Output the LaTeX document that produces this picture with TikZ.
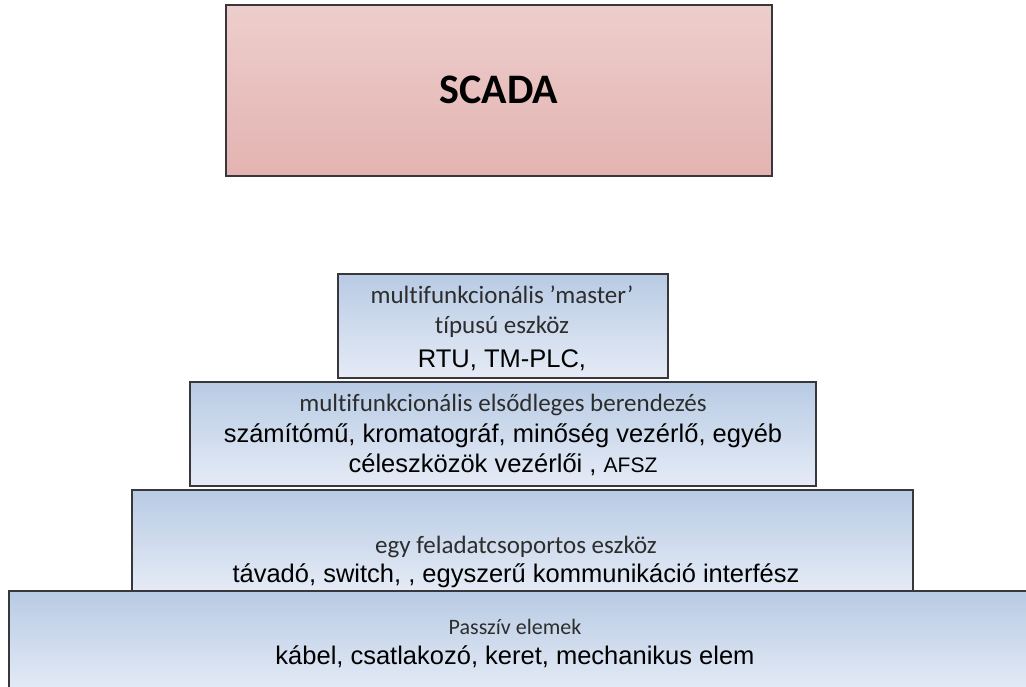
\documentclass[tikz,border=0pt]{standalone}
\usepackage{fontspec}
\setmainfont{Carlito}[Ligatures=NoCommon]
\newfontfamily\arialfont{Liberation Sans}

\definecolor{scadatop}{RGB}{237,206,204}
\definecolor{scadabot}{RGB}{227,179,177}
\definecolor{layertop}{RGB}{184,203,228}
\definecolor{layerbot}{RGB}{229,235,246}
\definecolor{rim}{RGB}{55,55,60}
\definecolor{softink}{RGB}{45,45,45}

\begin{document}
\begin{tikzpicture}[x=1pt,y=-1pt,
  scadabox/.style={draw=rim, line width=1.1pt, top color=scadatop, bottom color=scadabot, inner sep=0pt},
  layerbox/.style={draw=rim, line width=1.1pt, top color=layertop, bottom color=layerbot, inner sep=0pt},
  calib/.style={text=softink, font=\fontsize{25}{30}\selectfont},
  arial/.style={font=\arialfont\fontsize{25.5}{30}\selectfont},
  txt/.style={align=center, inner sep=0pt}]
\useasboundingbox (0,0) rectangle (1026,686);
\clip (0,0) rectangle (1026,686);

% top of the hierarchy
\node[scadabox, minimum width=546pt, minimum height=171pt] (scada) at (499,90.5) {};
\node[txt, font=\bfseries\fontsize{42}{50}\selectfont] (scadatxt) at (499,90) {SCADA};

% master level
\node[layerbox, minimum width=330pt, minimum height=104pt] (master) at (503,326) {};
\node[txt, calib, anchor=base] (master1) at (502,303) {multifunkcionális ’master’};
\node[txt, calib, anchor=base] (master2) at (502,333) {típusú eszköz};
\node[txt, arial, anchor=base] (master3) at (502,367) {RTU, TM-PLC,};

% primary devices
\node[layerbox, minimum width=626pt, minimum height=104pt] (primary) at (503,434) {};
\node[txt, calib, anchor=base] (primary1) at (503,411) {multifunkcionális elsődleges berendezés};
\node[txt, arial, anchor=base] (primary2) at (503,442) {számítómű, kromatográf, minőség vezérlő, egyéb};
\node[txt, arial, anchor=base] (primary3) at (503,472) {céleszközök vezérlői , \fontsize{21}{25}\selectfont AFSZ};

% single task devices
\node[layerbox, minimum width=781pt, minimum height=101pt] (single) at (522.5,540.5) {};
\node[txt, calib, anchor=base] (single1) at (516,553) {egy feladatcsoportos eszköz};
\node[txt, arial, anchor=base] (single2) at (516,582) {távadó, switch, , egyszerű kommunikáció interfész};

% passive elements
\node[layerbox, minimum width=1024pt, minimum height=102pt] (passive) at (521,642) {};
\node[txt, calib, font=\fontsize{22}{26}\selectfont, anchor=base] (passive1) at (515,634) {Passzív elemek};
\node[txt, arial, anchor=base] (passive2) at (515,664) {kábel, csatlakozó, keret, mechanikus elem};
\end{tikzpicture}
\end{document}
